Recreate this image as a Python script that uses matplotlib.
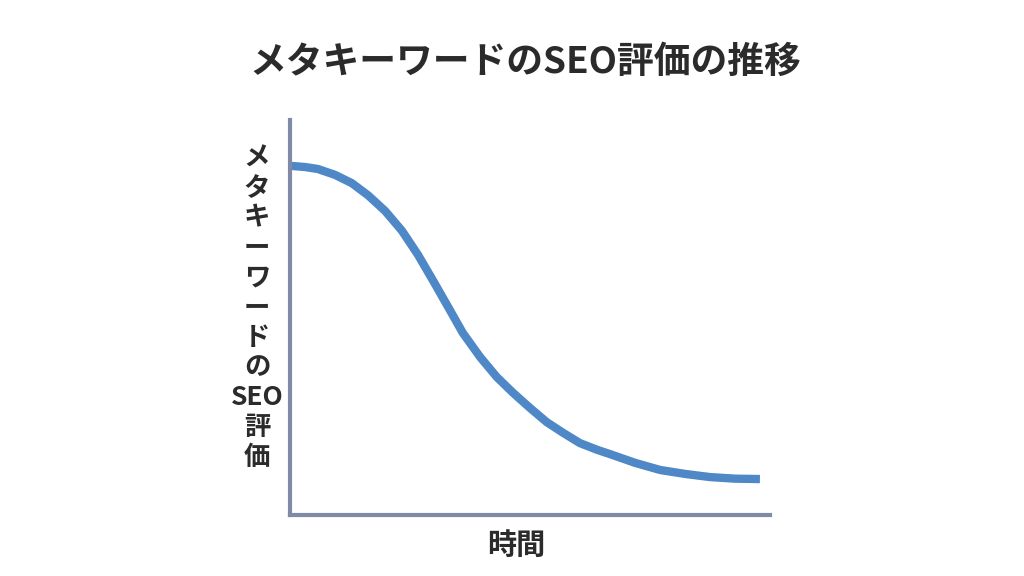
import matplotlib.pyplot as plt

plt.rcParams['font.family'] = ['Noto Sans CJK JP', 'DejaVu Sans']

# values
time = [0, 0.31, 0.58, 0.94, 1.29, 1.63, 1.98, 2.33, 2.67, 3.02, 3.33, 3.60, 3.96, 4.31,
        4.65, 5.00, 5.35, 5.69, 6.04, 6.40, 6.67, 7.19, 7.71, 8.23, 8.75, 9.27, 9.79]
score = [88.4, 88.1, 87.6, 86.1, 84.0, 80.9, 77.0, 72.0, 65.8, 58.5, 51.9, 46.1, 40.0, 34.9,
         30.9, 27.1, 23.5, 20.8, 18.2, 16.5, 15.4, 13.2, 11.4, 10.4, 9.6, 9.2, 9.1]

title = "メタキーワードのSEO評価の推移"
ylabel_parts = ["メ", "タ", "キ", "ー", "ワ", "ー", "ド", "の", "SEO", "評", "価"]
xlabel = "時間"

fig = plt.figure(figsize=(10.24, 5.76), dpi=100)
ax = fig.add_axes([290 / 1024, 61 / 576, 480 / 1024, 395 / 576])

ax.plot(time, score, color="#4f88c6", linewidth=6, solid_capstyle="butt", solid_joinstyle="round")
ax.set_xlim(0, 10)
ax.set_ylim(0, 100)

for s in ["top", "right"]:
    ax.spines[s].set_visible(False)
for s in ["left", "bottom"]:
    ax.spines[s].set_color("#7f8ba6")
    ax.spines[s].set_linewidth(3)
ax.set_xticks([])
ax.set_yticks([])

fig.text(0.513, 0.892, title, ha="center", va="center", fontsize=26.5, fontweight="bold", color="#2b2b2b")

# vertical y label, one character per line
fig.text(257 / 1024, 1 - 308 / 576, "\n".join(ylabel_parts), ha="center", va="center",
         fontsize=19, fontweight="bold", color="#2b2b2b", linespacing=1.14)
fig.text(516 / 1024, 1 - 545 / 576, xlabel, ha="center", va="center", fontsize=21,
         fontweight="bold", color="#2b2b2b")

fig.savefig("out.png", dpi=100)
